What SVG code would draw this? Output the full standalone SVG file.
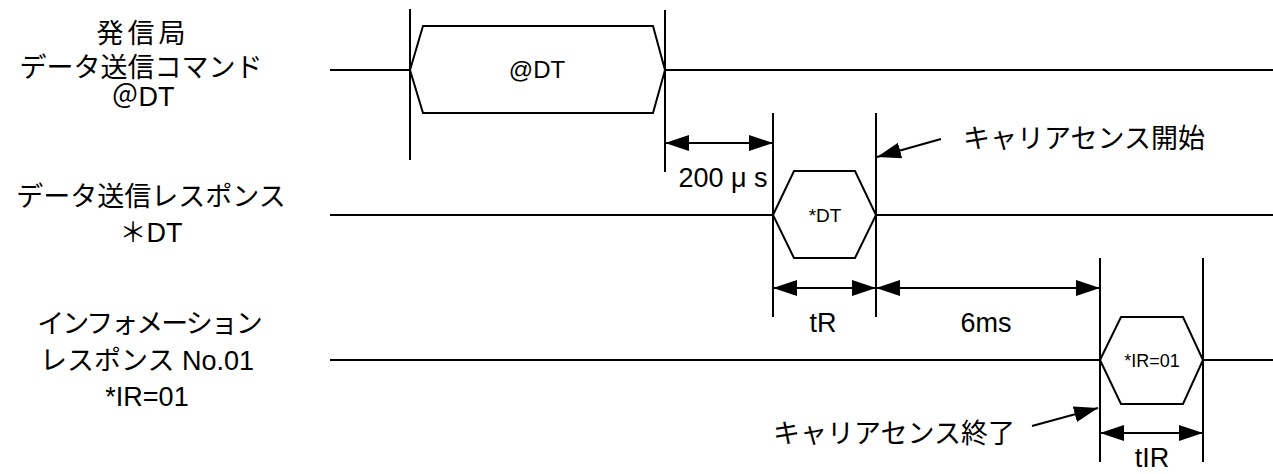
<svg xmlns="http://www.w3.org/2000/svg" width="1273" height="474" viewBox="0 0 1273 474">
<style>
.ln{stroke:#000;stroke-width:2;fill:none}
.hx{stroke:#000;stroke-width:2;fill:#fff}
.t{font-family:"Liberation Sans","Noto Sans CJK JP",sans-serif;fill:#000}
.lb{font-size:27px;text-anchor:middle}
.ar{stroke:#000;stroke-width:2;fill:none;marker-end:url(#ah)}
.dar{stroke:#000;stroke-width:2;fill:none;marker-start:url(#ah);marker-end:url(#ah)}
</style>
<defs>
<marker id="ah" markerUnits="userSpaceOnUse" markerWidth="24" markerHeight="16" refX="24" refY="8" orient="auto-start-reverse" viewBox="0 0 24 16">
<path d="M0,0 L24,8 L0,16 z" fill="#000"/>
</marker>
</defs>
<g id="label-dt-command" class="t lb">
<text x="143" y="43" letter-spacing="4">発信局</text>
<text x="141" y="77">データ送信コマンド</text>
<text x="143" y="106">＠DT</text>
</g>
<g id="label-dt-response" class="t lb">
<text x="151" y="206">データ送信レスポンス</text>
<text x="151" y="242">＊DT</text>
</g>
<g id="label-ir" class="t lb">
<text x="149" y="333" letter-spacing="-2">インフォメーション</text>
<text x="147" y="370">レスポンス No.01</text>
<text x="147" y="406">*IR=01</text>
</g>
<g id="connectors">
<line class="ln" x1="330" y1="70" x2="410" y2="70"/>
<line class="ln" x1="665" y1="70" x2="1273" y2="70"/>
<line class="ln" x1="330" y1="215" x2="773" y2="215"/>
<line class="ln" x1="876" y1="215" x2="1273" y2="215"/>
<line class="ln" x1="330" y1="360" x2="1100" y2="360"/>
<line class="ln" x1="1203" y1="360" x2="1273" y2="360"/>
<line class="ln" x1="410" y1="9" x2="410" y2="160"/>
<line class="ln" x1="665" y1="10" x2="665" y2="172"/>
<line class="ln" x1="773" y1="113" x2="773" y2="317"/>
<line class="ln" x1="876" y1="113" x2="876" y2="317"/>
<line class="ln" x1="1100" y1="258" x2="1100" y2="462"/>
<line class="ln" x1="1203" y1="258" x2="1203" y2="462"/>
<line class="dar" x1="665" y1="143" x2="773" y2="143"/>
<line class="dar" x1="773" y1="288" x2="876" y2="288"/>
<line class="dar" x1="876" y1="288" x2="1100" y2="288"/>
<line class="dar" x1="1100" y1="433" x2="1203" y2="433"/>
<line class="ar" x1="941" y1="139" x2="877" y2="157"/>
<line class="ar" x1="1032" y1="426" x2="1098" y2="408"/>
</g>
<g id="node-dt-command">
<polygon class="hx" points="410,70 423,26 653,26 665,70 653,113 423,113"/>
<text class="t" x="537" y="78" font-size="24" text-anchor="middle">@DT</text>
</g>
<g id="node-dt-response">
<polygon class="hx" points="773,215 794,171 855,171 876,215 855,258 794,258"/>
<text class="t" x="825" y="222" font-size="19" text-anchor="middle">*DT</text>
</g>
<g id="node-ir">
<polygon class="hx" points="1100,360 1121,317 1183,317 1203,360 1183,404 1121,404"/>
<text class="t" x="1152" y="367" font-size="18" text-anchor="middle">*IR=01</text>
</g>
<g id="annotations" class="t">
<text x="723" y="187" font-size="27" text-anchor="middle">200 μ s</text>
<text x="823" y="332" font-size="27" text-anchor="middle">tR</text>
<text x="986" y="332" font-size="27" text-anchor="middle">6ms</text>
<text x="1152" y="467" font-size="27" text-anchor="middle">tIR</text>
<text x="963" y="148" font-size="27">キャリアセンス開始</text>
<text x="773" y="443" font-size="27">キャリアセンス終了</text>
</g>
</svg>
